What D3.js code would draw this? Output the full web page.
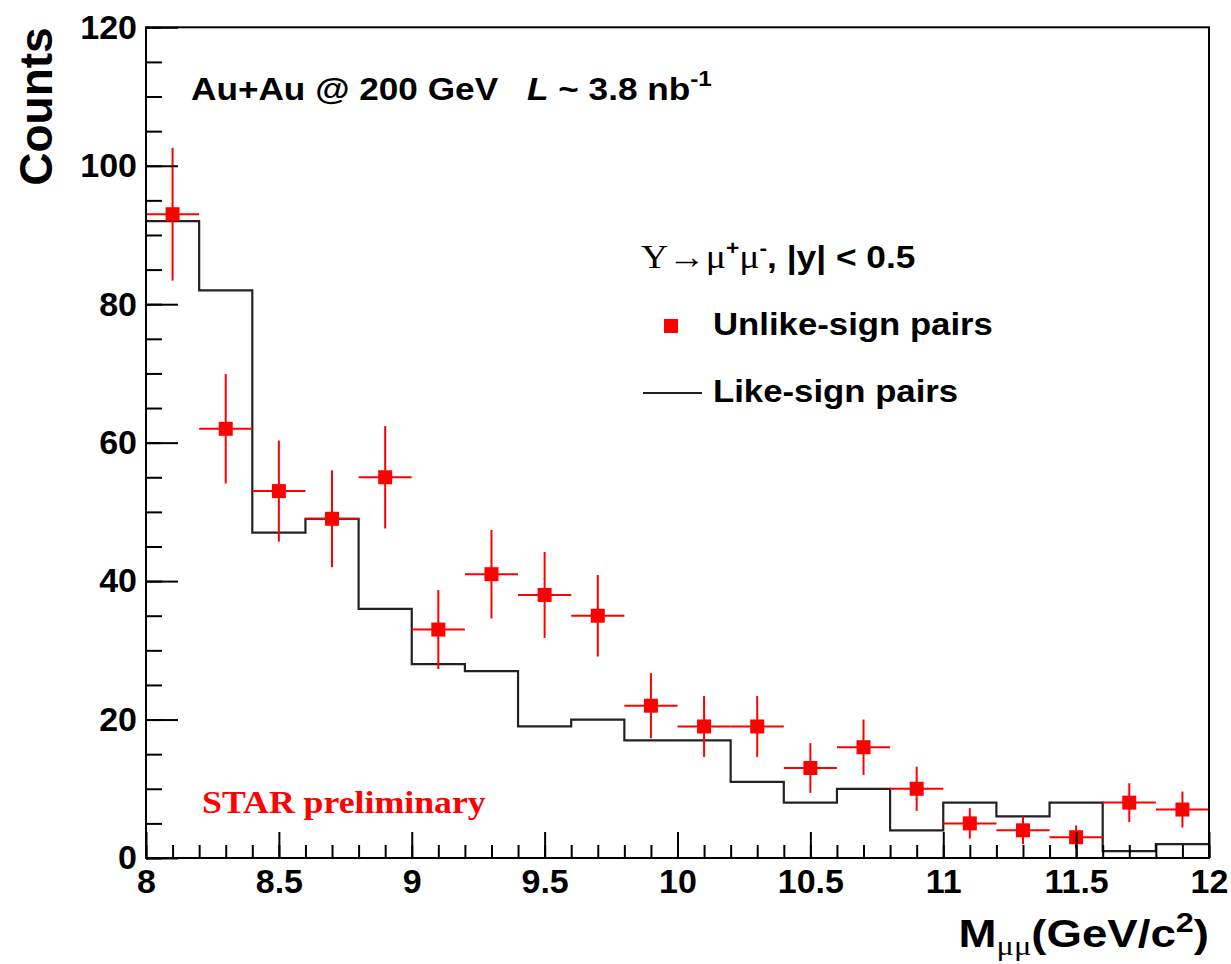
<!DOCTYPE html>
<html>
<head>
<meta charset="utf-8">
<script src="https://cdn.jsdelivr.net/npm/d3@7/dist/d3.min.js"></script>
<style>
  html, body { margin: 0; padding: 0; background: #fff; }
  svg { display: block; }
  .sans { font-family: "Liberation Sans", Arial, Helvetica, sans-serif; font-weight: bold; }
  .serif { font-family: "Liberation Serif", "Times New Roman", serif; }
</style>
</head>
<body>
<svg id="chart" width="1231" height="964"></svg>
<script>
// Dimuon invariant mass in the Upsilon region, Au+Au at 200 GeV
const binCenters   = [8.1, 8.3, 8.5, 8.7, 8.9, 9.1, 9.3, 9.5, 9.7, 9.9,
                      10.1, 10.3, 10.5, 10.7, 10.9, 11.1, 11.3, 11.5, 11.7, 11.9];
const binWidth     = 0.2;
const unlikeCounts = [93, 62, 53, 49, 55, 33, 41, 38, 35, 22,
                      19, 19, 13, 16, 10, 5, 4, 3, 8, 7];
const unlikeErrors = [9.6, 7.9, 7.3, 7.0, 7.4, 5.7, 6.4, 6.2, 5.9, 4.7,
                      4.4, 4.4, 3.6, 4.0, 3.2, 2.2, 2.0, 1.7, 2.8, 2.6];
const likeCounts   = [92, 82, 47, 49, 36, 28, 27, 19, 20, 17,
                      17, 11, 8, 10, 4, 8, 6, 8, 1, 2];
const xMajorTicks  = [8, 8.5, 9, 9.5, 10, 10.5, 11, 11.5, 12];
const yMajorTicks  = [0, 20, 40, 60, 80, 100, 120];

const svg = d3.select("#chart");
const frame = { left: 146, right: 1209, top: 27.3, bottom: 858 };

const x = d3.scaleLinear().domain([8, 12]).range([frame.left, frame.right]);
const y = d3.scaleLinear().domain([0, 120]).range([frame.bottom, frame.top]);

const RED = "#ff0000";

// Like-sign histogram (step line over bin edges)
const stepPts = binCenters.map((c, i) => [c - binWidth / 2, likeCounts[i]]);
stepPts.push([binCenters[binCenters.length - 1] + binWidth / 2, likeCounts[likeCounts.length - 1]]);
svg.append("path")
  .attr("d", d3.line().x(d => x(d[0])).y(d => y(d[1])).curve(d3.curveStepAfter)(stepPts))
  .attr("fill", "none").attr("stroke", "#222").attr("stroke-width", 2.2);

// Unlike-sign points with error bars
const pts = svg.append("g");
binCenters.forEach((c, i) => {
  const v = unlikeCounts[i], e = unlikeErrors[i];
  pts.append("line")
    .attr("x1", x(c)).attr("x2", x(c))
    .attr("y1", y(v - e)).attr("y2", y(v + e))
    .attr("stroke", RED).attr("stroke-width", 2);
  pts.append("line")
    .attr("x1", x(c - binWidth / 2)).attr("x2", x(c + binWidth / 2))
    .attr("y1", y(v)).attr("y2", y(v))
    .attr("stroke", RED).attr("stroke-width", 2);
  pts.append("rect")
    .attr("x", x(c) - 7).attr("y", y(v) - 7)
    .attr("width", 14).attr("height", 14)
    .attr("fill", RED);
});

// Axes with inward ticks
function styleAxis(g) {
  g.select(".domain").remove();
  g.selectAll("line").attr("stroke", "#000").attr("stroke-width", 2);
}
const fmt = d3.format("~g");

svg.append("g").attr("transform", `translate(${frame.left},0)`)
  .call(d3.axisLeft(y).tickValues(d3.range(0, 121, 5)).tickSizeInner(-16).tickSizeOuter(0).tickFormat(""))
  .call(styleAxis);
const yAx = svg.append("g").attr("transform", `translate(${frame.left},0)`)
  .call(d3.axisLeft(y).tickValues(yMajorTicks).tickSizeInner(-32).tickSizeOuter(0).tickPadding(9).tickFormat(fmt))
  .call(styleAxis);
yAx.selectAll("text")
  .attr("class", "sans").attr("font-size", 34).attr("fill", "#000");

svg.append("g").attr("transform", `translate(0,${frame.bottom})`)
  .call(d3.axisBottom(x).tickValues(d3.range(80, 121, 1).map(d => d / 10)).tickSizeInner(-13).tickSizeOuter(0).tickFormat(""))
  .call(styleAxis);
const xAx = svg.append("g").attr("transform", `translate(0,${frame.bottom})`)
  .call(d3.axisBottom(x).tickValues(xMajorTicks).tickSizeInner(-26).tickSizeOuter(0).tickPadding(11).tickFormat(fmt))
  .call(styleAxis);
xAx.selectAll("text")
  .attr("class", "sans").attr("font-size", 34).attr("fill", "#000");

// Frame
svg.append("rect")
  .attr("x", frame.left).attr("y", frame.top)
  .attr("width", frame.right - frame.left).attr("height", frame.bottom - frame.top)
  .attr("fill", "none").attr("stroke", "#000").attr("stroke-width", 2);

// Axis titles
svg.append("text").attr("class", "sans")
  .attr("transform", `translate(52,${frame.top}) rotate(-90)`)
  .attr("text-anchor", "end").attr("font-size", 46).text("Counts");

const xt = svg.append("text").attr("class", "sans")
  .attr("transform", `translate(${frame.right},947) scale(1.2,1)`)
  .attr("text-anchor", "end").attr("font-size", 38);
xt.append("tspan").text("M");
xt.append("tspan").attr("class", "serif").attr("font-weight", "normal").attr("font-size", 27).attr("dy", 8).text("μμ");
xt.append("tspan").attr("dy", -8).text("(GeV/c");
xt.append("tspan").attr("font-size", 27).attr("dy", -15).text("2");
xt.append("tspan").attr("dy", 15).text(")");

// Header annotation
svg.append("text").attr("class", "sans")
  .attr("transform", "translate(191,100) scale(1.1,1)")
  .attr("font-size", 32).text("Au+Au @ 200 GeV");
const lum = svg.append("text").attr("class", "sans")
  .attr("transform", "translate(527,100) scale(1.1,1)")
  .attr("font-size", 32);
lum.append("tspan").attr("font-style", "italic").text("L");
lum.append("tspan").text(" ~ 3.8 nb");
lum.append("tspan").attr("font-size", 22).attr("dy", -14).text("-1");

// Legend
const leg = svg.append("text").attr("class", "sans")
  .attr("transform", "translate(641,268) scale(1.14,1)")
  .attr("font-size", 31);
leg.append("tspan").attr("class", "serif").attr("font-weight", "normal").attr("font-size", 33).text("Υ→μ");
leg.append("tspan").attr("font-size", 20).attr("dy", -13).text("+");
leg.append("tspan").attr("class", "serif").attr("font-weight", "normal").attr("font-size", 33).attr("dy", 13).text("μ");
leg.append("tspan").attr("font-size", 20).attr("dy", -13).text("-");
leg.append("tspan").attr("dy", 13).text(", |y| < 0.5");

svg.append("rect").attr("x", 664).attr("y", 319).attr("width", 14).attr("height", 14).attr("fill", RED);
svg.append("text").attr("class", "sans")
  .attr("transform", "translate(713,335) scale(1.086,1)")
  .attr("font-size", 32).text("Unlike-sign pairs");

svg.append("line").attr("x1", 643).attr("x2", 702).attr("y1", 393).attr("y2", 393)
  .attr("stroke", "#222").attr("stroke-width", 2);
svg.append("text").attr("class", "sans")
  .attr("transform", "translate(713,402) scale(1.086,1)")
  .attr("font-size", 32).text("Like-sign pairs");

// Watermark
svg.append("text").attr("class", "serif")
  .attr("transform", "translate(202,813) scale(1.1,1)")
  .attr("font-size", 32.5).attr("font-weight", "bold").attr("fill", RED)
  .text("STAR preliminary");
</script>
</body>
</html>
